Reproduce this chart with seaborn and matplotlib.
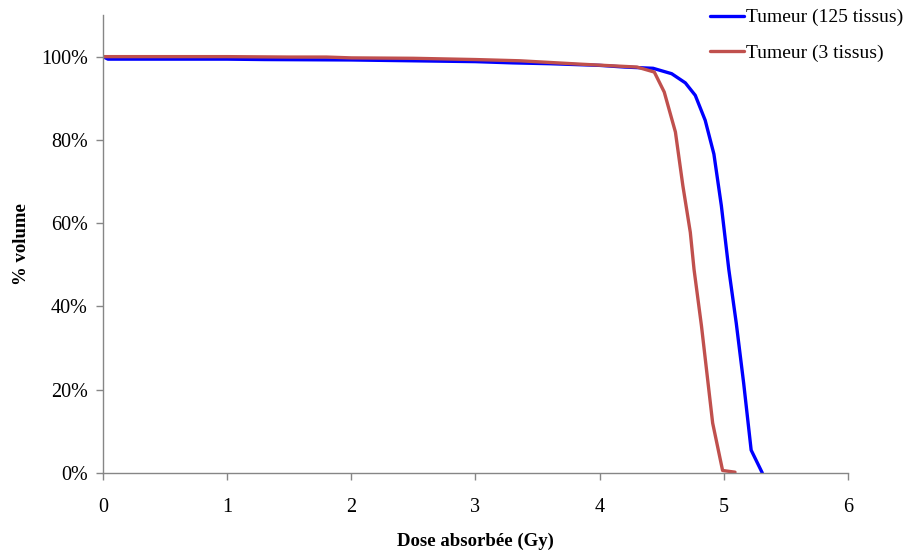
import numpy as np
import pandas as pd
import matplotlib
matplotlib.use("Agg")
import matplotlib.pyplot as plt
import seaborn as sns

# Dose-volume curves
dose_125 = [0, 0.04, 0.5, 1.0, 1.3, 2.0, 2.5, 3.0, 3.3, 3.6, 4.0, 4.2, 4.43,
            4.58, 4.69, 4.77, 4.85, 4.92, 4.98, 5.04, 5.10, 5.16, 5.22, 5.31]
vol_125 = [100, 99.4, 99.4, 99.4, 99.3, 99.2, 99.0, 98.8, 98.5, 98.3, 97.9, 97.5, 97.2,
           95.9, 93.7, 90.7, 84.7, 76.6, 64.2, 48.9, 36.0, 21.5, 5.5, 0]

dose_3 = [0, 0.5, 1.0, 1.5, 1.8, 2.0, 2.5, 3.0, 3.36, 3.84, 4.1, 4.3, 4.44,
          4.52, 4.61, 4.67, 4.73, 4.76, 4.82, 4.91, 4.99, 5.09]
vol_3 = [100, 100, 100, 99.9, 99.9, 99.7, 99.6, 99.3, 99.0, 98.2, 97.8, 97.5, 96.3,
         91.5, 81.9, 69.0, 57.8, 48.9, 35.3, 12.0, 0.6, 0.2]

labels = ["Tumeur (125 tissus)", "Tumeur (3 tissus)"]
colors = ["#0000FF", "#C0504D"]

sns.set_style("white")
plt.rcParams["font.family"] = ["Liberation Serif", "DejaVu Serif"]
plt.rcParams["text.color"] = "black"
plt.rcParams["axes.labelcolor"] = "black"

fig = plt.figure(figsize=(9.08, 5.54), dpi=100)
ax = fig.add_axes([103 / 908, 1 - 473 / 554, 745 / 908, 458 / 554])

sns.lineplot(x=dose_125, y=vol_125, color=colors[0], lw=2.4, label=labels[0], ax=ax, sort=False)
sns.lineplot(x=dose_3, y=vol_3, color=colors[1], lw=2.4, label=labels[1], ax=ax, sort=False)

ax.set_xlim(0, 6)
ax.set_ylim(0, 110)
ax.set_xticks(range(0, 7))
ax.set_yticks(range(0, 101, 20))
ax.set_yticklabels([f"{v}%" for v in range(0, 101, 20)])

for s in ["top", "right"]:
    ax.spines[s].set_visible(False)
for s in ["left", "bottom"]:
    ax.spines[s].set_color("#868686")
    ax.spines[s].set_linewidth(1.0)
ax.tick_params(axis="both", which="major", direction="out", length=5, width=1,
               color="#868686", labelcolor="black", labelsize=14.5, bottom=True, left=True)
ax.tick_params(axis="y", pad=6)
ax.tick_params(axis="x", pad=13)

ax.set_xlabel("Dose absorbée (Gy)", fontsize=13.5, fontweight="bold", labelpad=11)
ax.set_ylabel("% volume", fontsize=13.5, fontweight="bold", labelpad=8)

ax.legend(loc="upper left", bbox_to_anchor=(702 / 908, 1 - 1 / 554),
          bbox_transform=fig.transFigure, frameon=False, fontsize=14,
          handlelength=1.75, handletextpad=0.1, labelspacing=0.9, borderaxespad=0)

plt.savefig("out.png", dpi=100)
